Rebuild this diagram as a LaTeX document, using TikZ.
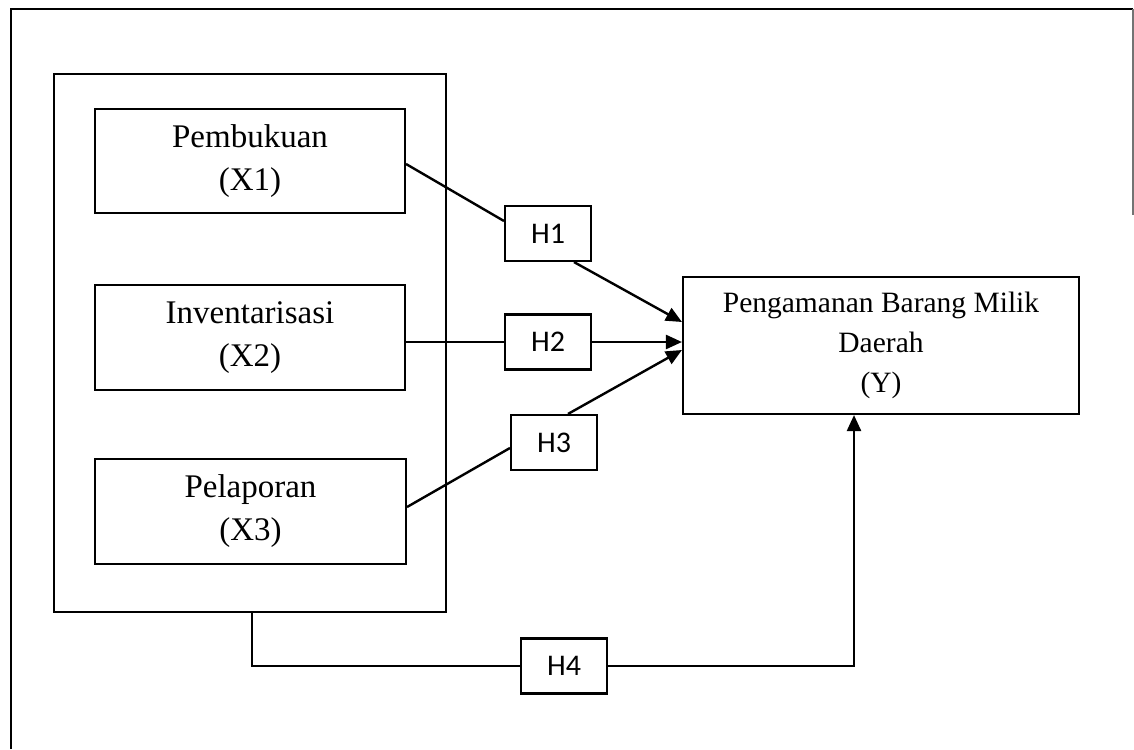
\documentclass[tikz,border=0pt]{standalone}
\usepackage{fontspec}
\setmainfont{Liberation Serif}
\newfontfamily\calfont{Carlito}
\usetikzlibrary{arrows.meta,calc}
\tikzset{
  box/.style={draw, line width=2.1pt, inner sep=0pt, align=center, font=\fontsize{33}{43}\selectfont},
  ybox/.style={box, font=\fontsize{29.5}{40}\selectfont},
  hbox/.style={draw, line width=2.1pt, inner sep=0pt, minimum width=86pt, minimum height=55pt, font=\calfont\fontsize{30}{30}\selectfont},
  conn/.style={line width=2.4pt},
  arr/.style={line width=2.4pt, -{Triangle[length=16pt,width=14pt]}},
  frame/.style={line width=2.2pt}
}
\begin{document}
\begin{tikzpicture}[x=1pt,y=-1pt]
\useasboundingbox (0,0) rectangle (1134,749);
% outer frame
\draw[frame] (11,749) -- (11,9) -- (1133,9);
\draw[frame, black!55] (1133,9) -- (1133,215);
% group box
\node[box, minimum width=392pt, minimum height=538pt] (big) at (250,343) {};
\node[box, minimum width=310pt, minimum height=104pt] (x1) at (250,161) {Pembukuan\\(X1)};
\node[box, minimum width=310pt, minimum height=105pt] (x2) at (250,337.5) {Inventarisasi\\(X2)};
\node[box, minimum width=311pt, minimum height=105pt] (x3) at (250.5,511.5) {Pelaporan\\(X3)};
\node[ybox, minimum width=396pt, minimum height=137pt] (y) at (881,345.5) {Pengamanan Barang Milik\\Daerah\\(Y)};
\node[hbox] (h1) at (548,233.5) {H1};
\node[hbox] (h2) at (548,342) {H2};
\node[hbox] (h3) at (554,442.5) {H3};
\node[hbox] (h4) at (564,666) {H4};
% connectors
\draw[conn] ([yshift=-3pt]x1.east) -- ([yshift=12.5pt]h1.west);
\draw[arr] ([xshift=26pt]h1.south) -- ([yshift=23.5pt]y.west);
\draw[conn] (x2.east |- h2.west) -- (h2.west);
\draw[arr] (h2.east) -- (y.west |- h2.east);
\draw[conn] ([yshift=4.5pt]x3.east) -- ([yshift=-5.5pt]h3.west);
\draw[arr] ([xshift=14pt]h3.north) -- ([yshift=-4.5pt]y.west);
\draw[conn] ([xshift=2pt]big.south) |- (h4.west);
\draw[arr] (h4.east) -| ([xshift=-27pt]y.south);
\end{tikzpicture}
\end{document}
